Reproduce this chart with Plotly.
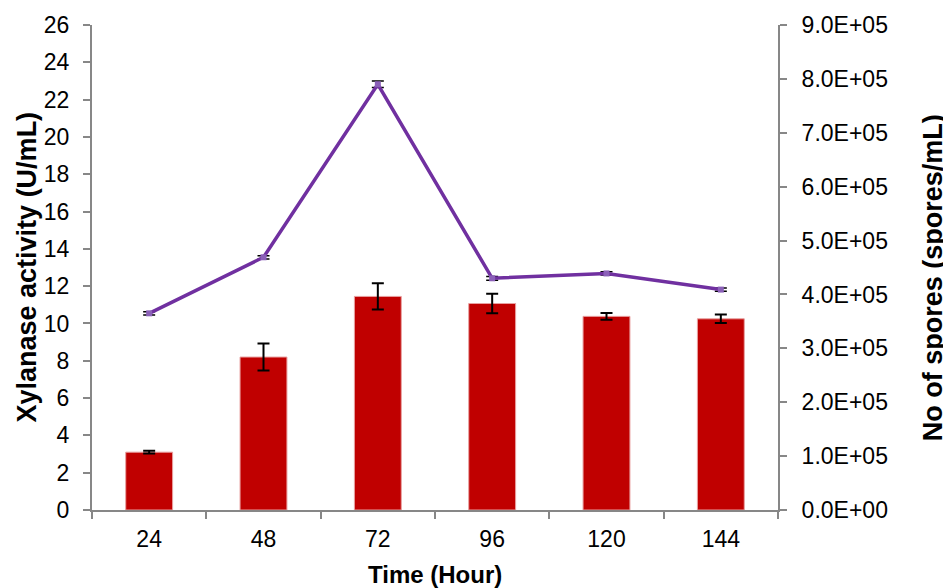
import plotly.graph_objects as go

hours = ["24", "48", "72", "96", "120", "144"]
xylanase = [3.1, 8.2, 11.45, 11.07, 10.38, 10.25]
xylanase_err = [0.07, 0.72, 0.7, 0.52, 0.18, 0.23]
spores = [3.65e5, 4.69e5, 7.9e5, 4.3e5, 4.39e5, 4.09e5]
spores_err = [3000, 3000, 6000, 3500, 3000, 3000]

left_ticks = list(range(0, 27, 2))
right_tickvals = [i * 1e5 for i in range(10)]
right_ticktext = ["0.0E+00", "1.0E+05", "2.0E+05", "3.0E+05", "4.0E+05",
                  "5.0E+05", "6.0E+05", "7.0E+05", "8.0E+05", "9.0E+05"]

FONT = "Liberation Sans, Arial, sans-serif"
AX = "#878787"

fig = go.Figure()
fig.add_trace(go.Bar(
    x=hours, y=xylanase,
    marker=dict(color="#C00000", line=dict(color="#E8A0A0", width=1)),
    width=0.41,
    error_y=dict(type="data", array=xylanase_err, color="black", thickness=2, width=6),
    yaxis="y", showlegend=False,
))
fig.add_trace(go.Scatter(
    x=hours, y=spores, mode="lines+markers",
    line=dict(color="#7030A0", width=3.5),
    marker=dict(color="#8B60B8", size=6, symbol="square"),
    error_y=dict(type="data", array=spores_err, color="black", thickness=1.5, width=6),
    yaxis="y2", showlegend=False,
))

axis_common = dict(
    showline=True, linecolor=AX, linewidth=2,
    ticks="outside", ticklen=7, tickcolor=AX, tickwidth=1.5,
    tickfont=dict(size=23), showgrid=False, zeroline=False,
)

fig.update_layout(
    width=951, height=588,
    margin=dict(l=84, r=181, t=17, b=86, autoexpand=False),
    paper_bgcolor="white", plot_bgcolor="white",
    font=dict(family=FONT, size=23, color="black"),
    xaxis=dict(type="category", tickson="boundaries", ticklabelstandoff=7, **axis_common),
    yaxis=dict(range=[0, 26], tickvals=left_ticks, ticklabelstandoff=9, **axis_common),
    yaxis2=dict(range=[0, 9e5], overlaying="y", side="right",
                tickvals=right_tickvals, ticktext=right_ticktext,
                ticklabelstandoff=10, **axis_common),
    annotations=[
        dict(text="<b>Time (Hour)</b>", xref="paper", yref="paper", x=0.5, y=-0.134,
             xanchor="center", yanchor="middle", showarrow=False, font=dict(size=24)),
        dict(text="<b>Xylanase activity (U/mL)</b>", xref="paper", yref="paper",
             x=-0.0962, y=0.50, textangle=-90, xanchor="center", yanchor="middle",
             showarrow=False, font=dict(size=27)),
        dict(text="<b>No of spores (spores/mL)</b>", xref="paper", yref="paper",
             x=1.226, y=0.478, textangle=-90, xanchor="center", yanchor="middle",
             showarrow=False, font=dict(size=27)),
    ],
)

fig.write_html("out.html")
